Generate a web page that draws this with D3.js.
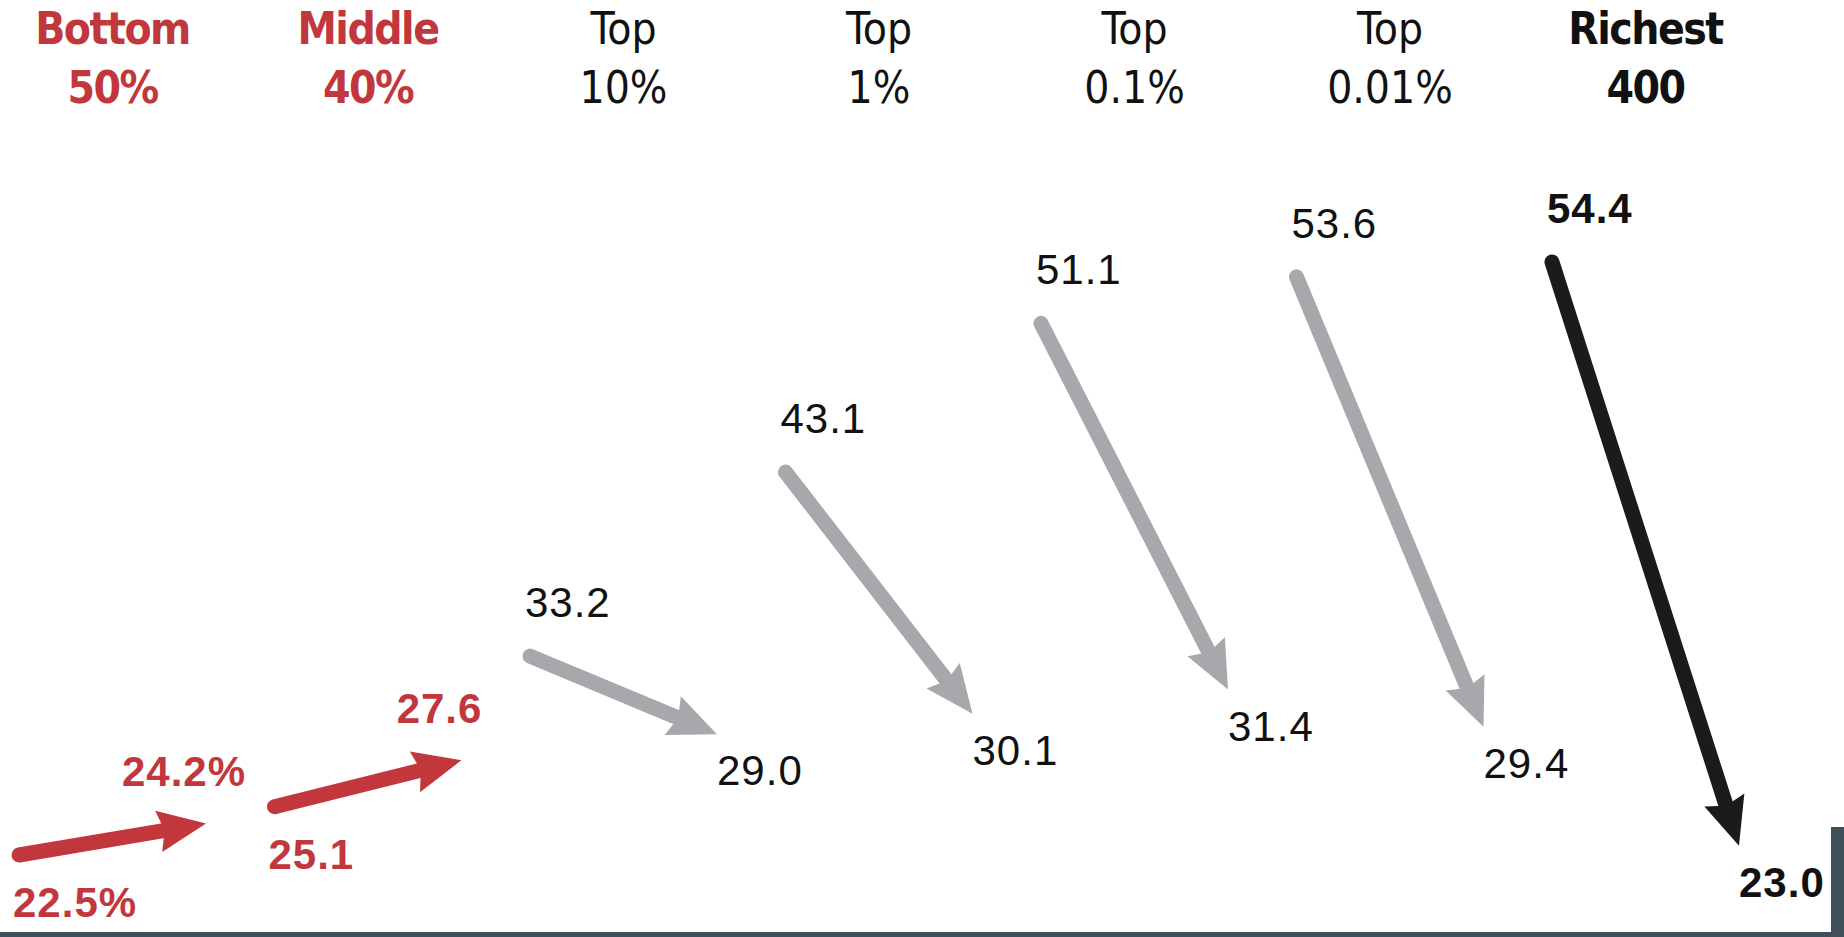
<!DOCTYPE html>
<html>
<head>
	<title>Effective tax rates</title>
	<style>
		html, body {
			margin: 0;
			padding: 0;
			background: #fff;
		}
		#chart {
			width: 1844px;
			height: 937px;
		}
		.head {
			font-family: "Liberation Sans Narrow", "DejaVu Sans Condensed", "Liberation Sans", sans-serif;
			font-size: 44px;
		}
		.val {
			font-family: "Liberation Sans", Arial, sans-serif;
			font-size: 42px;
			letter-spacing: 1px;
		}
	</style>
</head>
<body>
	<div id="chart"></div>
	<script src="https://cdn.jsdelivr.net/npm/d3@7"></script>
	<script>
		(function () {

			// groups, left to right
			var headTop = ["Bottom", "Middle", "Top", "Top", "Top", "Top", "Richest"];
			var headBottom = ["50%", "40%", "10%", "1%", "0.1%", "0.01%", "400"];
			var tiers = ["low", "low", "top", "top", "top", "top", "richest"];

			// tax rate, percent: first and last year
			var startVals = [22.5, 25.1, 33.2, 43.1, 51.1, 53.6, 54.4];
			var endVals = [24.2, 27.6, 29.0, 30.1, 31.4, 29.4, 23.0];

			var bounds = { width: 1844, height: 937 };

			var arrowColor = { low: "#c1373c", top: "#a8a8ac", richest: "#1c1a1a" };
			var textColor = { low: "#c1373c", top: "#111", richest: "#111" };

			var svg = d3.select("#chart")
				.append("svg")
				.attr("width", bounds.width)
				.attr("height", bounds.height);

			var x = d3.scaleBand()
				.domain(d3.range(headTop.length))
				.range([19, 1739])
				.paddingInner(0.268)
				.paddingOuter(0);

			var y = d3.scaleLinear()
				.domain([22.5, 54.4])
				.range([855, 262]);

			var fmt = d3.format(".1f");
			function label(v, i) { return i === 0 ? fmt(v) + "%" : fmt(v); }

			var data = startVals.map(function (s, i) {
				return { i: i, start: s, end: endVals[i], tier: tiers[i] };
			});

			// column headers
			var head = svg.append("g").attr("class", "head");
			[headTop, headBottom].forEach(function (row, r) {
				head.selectAll("text.row" + r)
					.data(data)
					.enter().append("text")
					.attr("class", "row" + r)
					.attr("x", function (d) { return x(d.i) + x.bandwidth() / 2; })
					.attr("y", r === 0 ? 44 : 103)
					.attr("text-anchor", "middle")
					.attr("fill", function (d) { return textColor[d.tier]; })
					.attr("font-weight", function (d) { return d.tier === "top" ? "normal" : "bold"; })
					.attr("letter-spacing", function (d) { return d.tier === "top" ? 0 : -1.5; })
					.text(function (d) { return row[d.i]; });
			});

			// arrows
			var arrows = svg.append("g")
				.selectAll("g")
				.data(data)
				.enter().append("g");

			arrows.each(function (d) {
				var g = d3.select(this);
				var x0 = x(d.i), y0 = y(d.start);
				var x1 = x(d.i) + x.bandwidth(), y1 = y(d.end);
				var ang = Math.atan2(y1 - y0, x1 - x0);
				var back = 40;
				g.append("line")
					.attr("x1", x0).attr("y1", y0)
					.attr("x2", x1 - back * Math.cos(ang))
					.attr("y2", y1 - back * Math.sin(ang))
					.attr("stroke", arrowColor[d.tier])
					.attr("stroke-width", 15)
					.attr("stroke-linecap", "round");
				g.append("path")
					.attr("d", "M0,0L-48,-21L-42,0L-48,21Z")
					.attr("fill", arrowColor[d.tier])
					.attr("transform", "translate(" + x1 + "," + y1 + ") rotate(" + (ang * 180 / Math.PI) + ")");
			});

			// value labels
			var vals = svg.append("g").attr("class", "val");
			data.forEach(function (d) {
				var up = d.end > d.start;
				var x0 = x(d.i), y0 = y(d.start);
				var x1 = x(d.i) + x.bandwidth(), y1 = y(d.end);
				var weight = d.tier === "top" ? "normal" : "bold";
				var fill = textColor[d.tier];

				vals.append("text")
					.attr("x", up ? x0 - 6 : x0 - 5)
					.attr("y", up ? y0 + 62 : y0 - 39)
					.attr("fill", fill)
					.attr("font-weight", weight)
					.text(label(d.start, d.i));

				vals.append("text")
					.attr("x", up ? x1 - 22 : x1)
					.attr("y", up ? y1 - 37 : y1 + 51)
					.attr("text-anchor", up ? "middle" : "start")
					.attr("fill", fill)
					.attr("font-weight", weight)
					.text(label(d.end, d.i));
			});

			// page frame bits
			svg.append("rect")
				.attr("x", 1831).attr("y", 827)
				.attr("width", 13).attr("height", 110)
				.attr("fill", "#3e4f5a");
			svg.append("rect")
				.attr("x", 0).attr("y", 932)
				.attr("width", bounds.width).attr("height", 5)
				.attr("fill", "#3e4f5a");

		})();
	</script>
</body>
</html>
